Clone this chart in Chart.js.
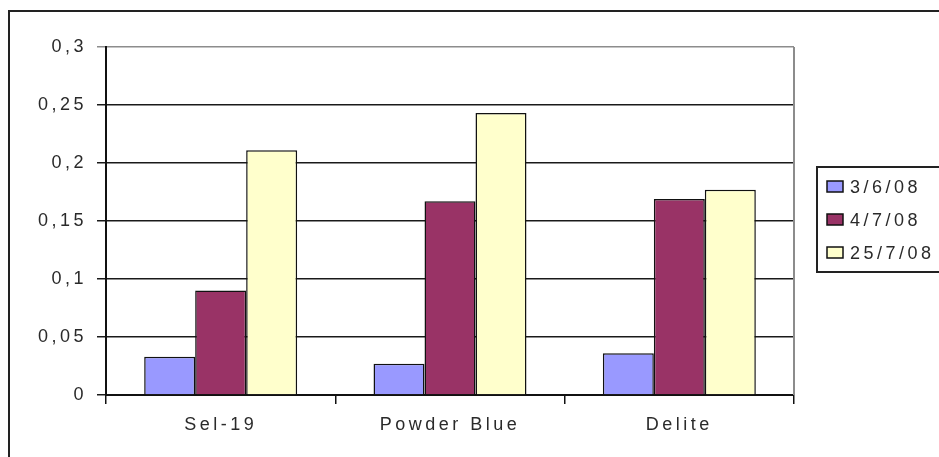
<!DOCTYPE html>
<html>
<head>
<meta charset="utf-8">
<script src="https://cdn.jsdelivr.net/npm/chart.js@4"></script>
<style>
  html, body { margin: 0; padding: 0; background: #fff; }
  canvas { display: block; }
</style>
</head>
<body>
<canvas id="chart" width="939" height="457"></canvas>
<script>
// --- datos ---
const categories = ['Sel-19', 'Powder Blue', 'Delite'];
const seriesNames = ['3/6/08', '4/7/08', '25/7/08'];
const serie1 = [0.033, 0.027, 0.036];
const serie2 = [0.090, 0.167, 0.169];
const serie3 = [0.211, 0.243, 0.177];
const yTickLabels = ['0', '0,05', '0,1', '0,15', '0,2', '0,25', '0,3'];
const seriesColors = ['#9999FF', '#993366', '#FFFFCC'];

const FONT = { family: '"Liberation Sans", Arial, sans-serif', size: 18 };
const TEXT = '#2a2a2a';
const SPACING = '3.5px';

// letterSpacing para imitar el texto ancho de Excel
const spacingPlugin = {
    id: 'spacing',
    beforeUpdate(chart) { chart.ctx.letterSpacing = SPACING; },
    beforeDraw(chart) {
        const ctx = chart.ctx;
        ctx.letterSpacing = SPACING;
        // marco exterior (cortado a la derecha y abajo)
        ctx.save();
        ctx.strokeStyle = '#222';
        ctx.lineWidth = 2;
        ctx.strokeRect(9, 11, 1000, 1000);
        ctx.restore();
    },
    afterDraw(chart) {
        const ctx = chart.ctx;
        const area = chart.chartArea;
        ctx.save();
        // borde derecho gris del área de trazado
        ctx.strokeStyle = '#8c8c8c';
        ctx.lineWidth = 2;
        ctx.beginPath();
        ctx.moveTo(area.right, area.top);
        ctx.lineTo(area.right, area.bottom);
        ctx.stroke();

        // leyenda con recuadro
        ctx.strokeStyle = '#222';
        ctx.lineWidth = 2;
        ctx.strokeRect(817, 167, 140, 105);
        ctx.font = FONT.size + 'px ' + FONT.family;
        ctx.textBaseline = 'middle';
        ctx.textAlign = 'left';
        ctx.letterSpacing = SPACING;
        chart.data.datasets.forEach((ds, i) => {
            const y = 187 + i * 33;
            ctx.fillStyle = ds.backgroundColor;
            ctx.fillRect(827, y - 6, 16, 11);
            ctx.strokeStyle = '#111';
            ctx.lineWidth = 1.5;
            ctx.strokeRect(827, y - 6, 16, 11);
            ctx.fillStyle = TEXT;
            ctx.fillText(ds.label, 850, y + 1);
        });
        ctx.restore();
    }
};

const datasets = [serie1, serie2, serie3].map((data, i) => ({
    label: seriesNames[i],
    data: data,
    backgroundColor: seriesColors[i],
    borderColor: '#111',
    borderWidth: 1.5,
    barPercentage: 1,
    categoryPercentage: 0.667
}));

new Chart(document.getElementById('chart'), {
    type: 'bar',
    data: { labels: categories, datasets: datasets },
    plugins: [spacingPlugin],
    options: {
        responsive: false,
        animation: false,
        devicePixelRatio: 1,
        layout: { padding: { left: 0, top: 47, right: 145, bottom: 0 } },
        plugins: { legend: { display: false }, tooltip: { enabled: false } },
        scales: {
            x: {
                grid: { drawOnChartArea: false, tickLength: 9, color: '#111', lineWidth: 1.5 },
                border: { display: true, color: '#111', width: 2 },
                ticks: { color: TEXT, font: FONT, padding: 10, maxRotation: 0 },
                afterFit(scale) { scale.height = 62; }
            },
            y: {
                min: 0,
                max: 0.3,
                ticks: {
                    stepSize: 0.05,
                    color: TEXT,
                    font: FONT,
                    padding: 10,
                    callback: (value, index) => yTickLabels[index]
                },
                grid: {
                    tickLength: 9,
                    lineWidth: 1.5,
                    color: ctx => (ctx.tick && ctx.tick.value >= 0.299 ? '#8c8c8c' : '#1a1a1a')
                },
                border: { display: true, color: '#111', width: 2 },
                afterFit(scale) { scale.width = 106; }
            }
        }
    }
});
</script>
</body>
</html>
